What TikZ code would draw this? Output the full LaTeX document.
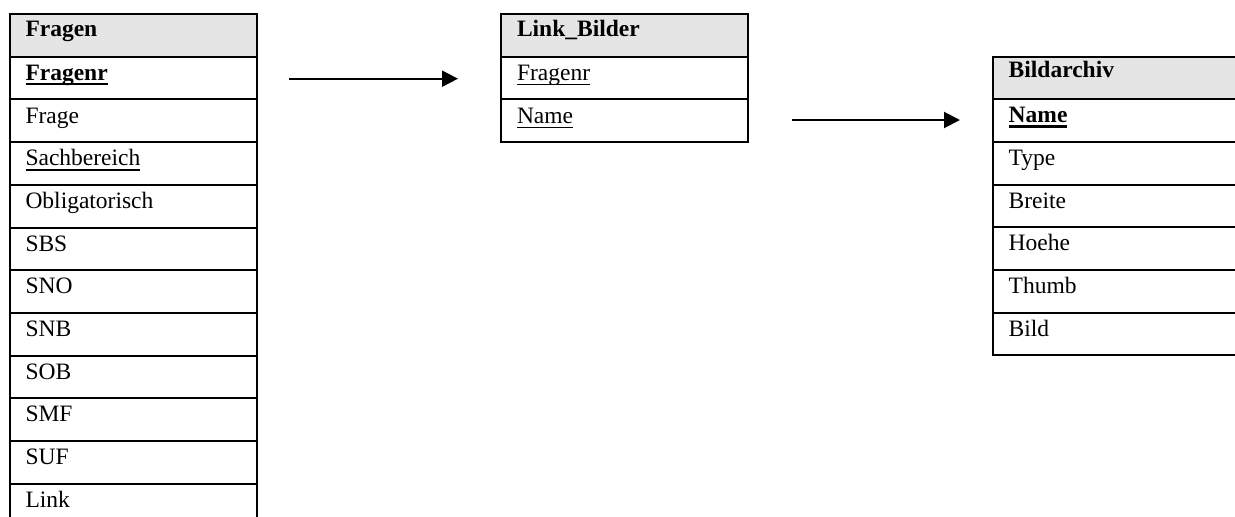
\documentclass[tikz,border=0pt]{standalone}
\usepackage{fontspec}
\setmainfont{Liberation Serif}
\usetikzlibrary{arrows.meta}
\definecolor{hdrgray}{RGB}{229,229,229}
% underline drawn at a fixed depth below the baseline (crosses descenders)
\newcommand\ulword[2][1.1pt]{\setbox0=\hbox{#2}\rlap{\rule[-4.8pt]{\wd0}{#1}}\box0}
\begin{document}
\begin{tikzpicture}[x=1pt,y=-1pt,
  cell/.style={draw, line width=2pt, anchor=north west, outer sep=0pt,
    minimum height=42.7pt, inner xsep=16pt, inner ysep=0pt,
    text width=215pt, align=left,
    font=\fontsize{23.5}{28}\selectfont, text height=17pt, text depth=12.5pt},
  head/.style={cell, fill=hdrgray, font=\fontsize{23.5}{28}\selectfont\bfseries,
    text height=15pt, text depth=12.7pt},
  link/.style={line width=2pt, -{Triangle[length=16pt,width=16pt]}}]
\clip (0,0) rectangle (1235,517);

% table Fragen
\node[head] (fr0) at (9.5,14) {Fragen};
\foreach \t [count=\i from 1] in {{\ulword[2.6pt]{\textbf{Fragenr}}}, Frage,
    {\ulword{Sachbereich}}, Obligatorisch, SBS, SNO, SNB, SOB, SMF, SUF, Link}
  \node[cell] (fr\i) at (9.5,{14+42.7*\i}) {\t};

% table Link_Bilder
\node[head] (lb0) at (501,14) {Link\_Bilder};
\node[cell] (lb1) at (501,56.7) {\ulword{Fragenr}};
\node[cell] (lb2) at (501,99.4) {\ulword{Name}};

% table Bildarchiv
\node[head, text height=13pt, text depth=14.7pt] (ba0) at (992.7,56.5) {Bildarchiv};
\foreach \t [count=\i from 1] in {{\ulword[2.6pt]{\textbf{Name}}}, Type, Breite,
    Hoehe, Thumb, Bild}
  \node[cell] (ba\i) at (992.7,{56.5+42.7*\i}) {\t};

% relationship arrows
\coordinate (a1s) at (289,78.7);
\coordinate (a1e) at (458,78.7);
\coordinate (a2s) at (791.7,120);
\coordinate (a2e) at (960,120);
\draw[link] (a1s) -- (a1e);
\draw[link] (a2s) -- (a2e);
\end{tikzpicture}
\end{document}
